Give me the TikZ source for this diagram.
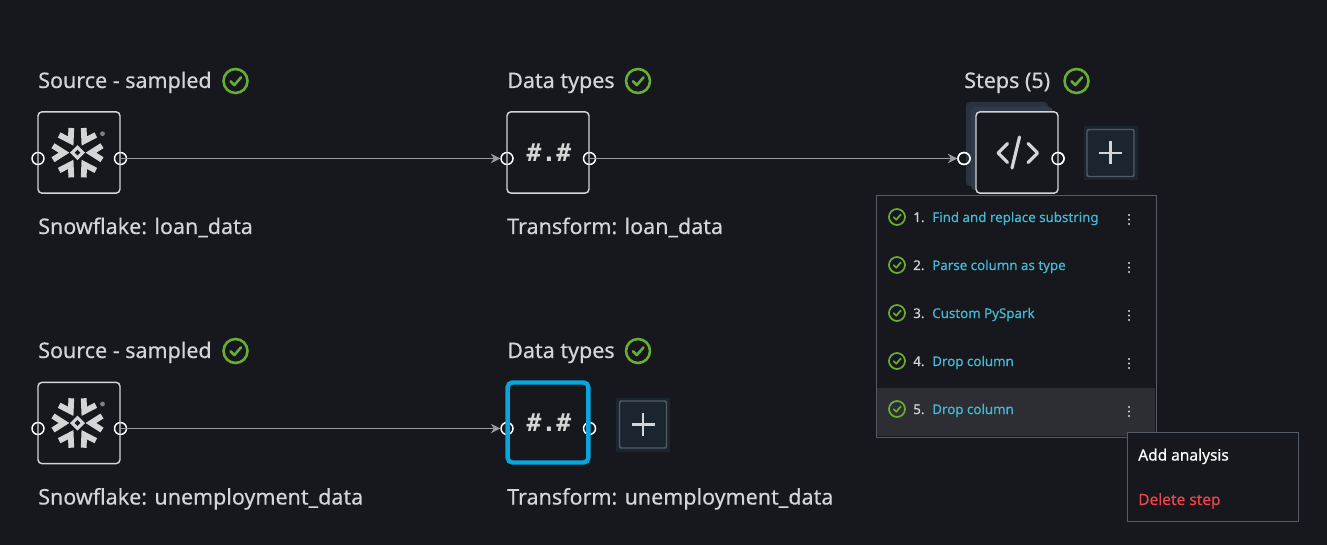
\documentclass[tikz,border=0pt]{standalone}
\usepackage{fontspec}
\setmainfont{Noto Sans}[FakeBold=0.35]
\newfontfamily\monof{DejaVu Sans Mono}[BoldFont={DejaVu Sans Mono Bold}]
\definecolor{bgc}{HTML}{16181D}
\definecolor{txt}{HTML}{D4D5D7}
\definecolor{teal}{HTML}{44B9D6}
\definecolor{redc}{HTML}{F0434B}
\definecolor{bluec}{HTML}{0AA5DC}
\definecolor{grn}{HTML}{69AE34}
\definecolor{edgec}{HTML}{545B64}
\definecolor{wire}{HTML}{9A9DA0}
\definecolor{hl}{HTML}{2C2E33}
\definecolor{plusbg}{HTML}{1B2530}
\definecolor{stack}{HTML}{2F3B4A}
\usetikzlibrary{arrows.meta}
\tikzset{
  x=0.75pt,y=-0.75pt,
  biglabel/.style={anchor=base west,inner sep=0pt,text=txt,font=\fontsize{16.1pt}{18pt}\selectfont},
  steplabel/.style={anchor=base west,inner sep=0pt,text=teal,font=\fontsize{10pt}{12pt}\selectfont},
  numlabel/.style={anchor=base west,inner sep=0pt,text=txt,font=\fontsize{10pt}{12pt}\selectfont\bfseries},
  menulabel/.style={anchor=base west,inner sep=0pt,font=\fontsize{11.6pt}{13pt}\selectfont},
  nodebox/.style={draw=txt,line width=1.1pt,rounded corners=3pt,minimum width=61.5pt,minimum height=61pt,inner sep=0pt,text=txt},
  hashtext/.style={font=\fontsize{18.5pt}{20pt}\selectfont\monof\bfseries},
  port/.style={circle,draw=white,line width=1.1pt,minimum size=9pt,inner sep=0pt},
  wireline/.style={draw=wire,line width=1.3pt,-{Stealth[length=7pt,width=7pt]}},
  pics/okicon/.style={code={
    \draw[grn,line width=#1*0.16pt] (0,0) circle[radius=#1];
    \draw[grn,line width=#1*0.16pt,line cap=round,line join=round] (-#1*0.42,#1*0.02) -- (-#1*0.1,#1*0.34) -- (#1*0.46,-#1*0.3);
  }},
  pics/flake/.style={code={
    \foreach \a in {0,60,...,300}{
      \draw[txt,line width=4.3pt,rotate=\a,line join=miter] (24.5,-7) -- (13.5,0) -- (24.5,7);
    }
    \fill[txt] (-7.5,0) -- (0,-7.5) -- (7.5,0) -- (0,7.5) -- cycle;
    \fill[bgc] (-2.8,0) -- (0,-2.8) -- (2.8,0) -- (0,2.8) -- cycle;
    \fill[txt!55!bgc] (25,-19) circle[radius=2.4];
  }},
  pics/dots/.style={code={
    \foreach \d in {-4.5,0,4.5}{\fill[txt] (0,\d) circle[radius=1.2];}
  }},
  pics/plusbtn/.style={code={
    \fill[plusbg] (-27,-27) rectangle (27,27);
    \draw[edgec,line width=1.1pt,fill=plusbg,rounded corners=1.5pt] (-23.5,-23.5) rectangle (23.5,23.5);
    \draw[txt,line width=2pt] (-11.5,0) -- (11.5,0) (0,-11.5) -- (0,11.5);
  }},
}
\begin{document}
\begin{tikzpicture}
\path[use as bounding box,fill=bgc] (0,0) rectangle (1327,545);

% stacked layers behind steps box
\fill[stack!80!bgc,rounded corners=3pt] (966,102) rectangle (1048,186);
\fill[stack,rounded corners=3pt] (971,107) rectangle (1053,190);

% ports
\node[port] (p1l) at (38,158.5) {};
\node[port] (p1r) at (120.5,158.5) {};
\node[port] (p2l) at (507,158.5) {};
\node[port] (p2r) at (589.5,158.5) {};
\node[port] (p3l) at (964,158.5) {};
\node[port] (p3r) at (1058,158.5) {};
\node[port] (p4l) at (38,428.5) {};
\node[port] (p4r) at (120.5,428.5) {};
\node[port] (p5l) at (507,428.5) {};
\node[port] (p5r) at (589.5,428.5) {};

% connectors
\draw[wireline] (p1r.center) -- (p2l);
\draw[wireline] (p2r.center) -- (p3l);
\draw[wireline] (p4r.center) -- (p5l);

% boxes
\node[nodebox] (srcA) at (79,152.5) {};
\node[nodebox,hashtext] (typA) at (548,152.5) {\hspace{1.5pt}\#.\#};
\node[nodebox,fill=bgc] (stp) at (1017,152.5) {};
\node[port] at (p3l) {};
\node[port] at (p3r) {};
\node[nodebox] (srcB) at (79,423) {};
\node[nodebox,hashtext,draw=bluec,line width=3.3pt,rounded corners=3.5pt,minimum width=60.5pt,minimum height=60pt] (typB) at (548,422.5) {\hspace{1.5pt}\#.\#};

% icons
\pic at (77.5,152.7) {flake};
\pic at (77.5,423) {flake};
\draw[txt,line width=2.4pt,line cap=round,line join=round]
  (1007.5,143.5) -- (998,153) -- (1007.5,162.5)
  (1028,143.5) -- (1037.5,153) -- (1028,162.5)
  (1019.5,137) -- (1012,168);
\pic at (1110.5,153) {plusbtn};
\pic at (643,424.5) {plusbtn};

% titles
\node[biglabel] (t1) at (38,88) {Source - sampled};
\node[biglabel] (t2) at (507,88) {Data types};
\node[biglabel] (t3) at (964,88) {Steps (5)};
\node[biglabel] (t4) at (38,358) {Source - sampled};
\node[biglabel] (t5) at (507,358) {Data types};
\pic at (235.5,81) {okicon=12};
\pic at (638,81) {okicon=12};
\pic at (1076.5,81) {okicon=12};
\pic at (235.5,351) {okicon=12};
\pic at (638,351) {okicon=12};

% captions
\node[biglabel] (c1) at (38,234) {Snowflake: loan\_data};
\node[biglabel] (c2) at (507,234) {Transform: loan\_data};
\node[biglabel] (c4) at (38,504.5) {Snowflake: unemployment\_data};
\node[biglabel] (c5) at (507,504.5) {Transform: unemployment\_data};

% panel
\draw[edgec,line width=0.6pt,fill=bgc] (876,195) rectangle (1156,437);
\fill[hl] (877,388) rectangle (1155,436);
\foreach \y/\n/\s in {222/1/Find and replace substring,270/2/Parse column as type,318/3/Custom PySpark,366/4/Drop column,414/5/Drop column}{
  \pic at (897,\y-5) {okicon=8};
  \node[numlabel] (n\n) at (913,\y) {\n.};
  \node[steplabel] (s\n) at (932,\y) {\s};
  \pic at (1129,\y-2.5) {dots};
}

% menu
\draw[edgec,line width=0.6pt,fill=bgc] (1127,432.5) rectangle (1298.5,521.5);
\node[menulabel,text=white] (m1) at (1138,460.5) {Add analysis};
\node[menulabel,text=redc] (m2) at (1138,505) {Delete step};
\end{tikzpicture}
\end{document}
